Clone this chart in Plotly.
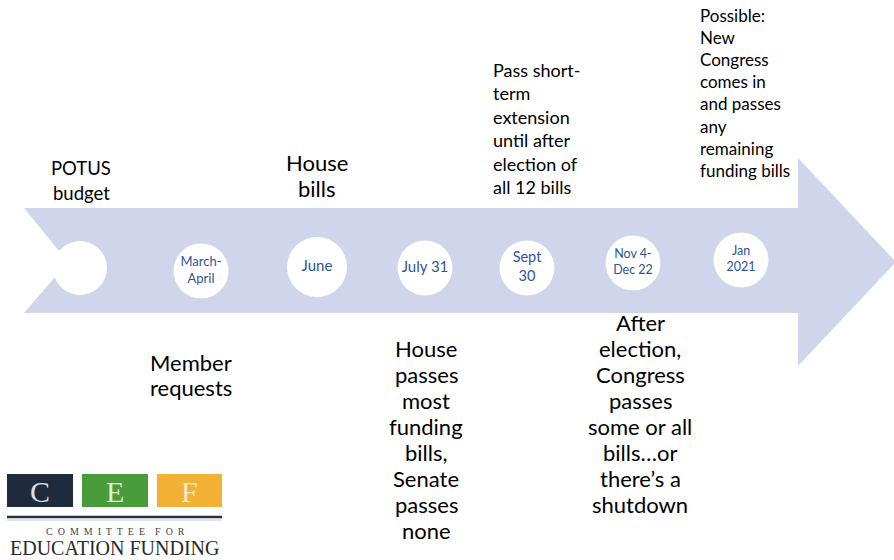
import plotly.graph_objects as go

W, H = 894, 560

# ---- data ----
milestones = ["", "March-<br>April", "June", "July 31", "Sept<br>30", "Nov 4-<br>Dec 22", "Jan<br>2021"]
above_texts = ["POTUS<br>budget", "", "House<br>bills", "", "", "", ""]
below_texts = ["", "Member<br>requests", "",
               "House<br>passes<br>most<br>funding<br>bills,<br>Senate<br>passes<br>none",
               "", "After<br>election,<br>Congress<br>passes<br>some or all<br>bills…or<br>there’s a<br>shutdown", ""]
side_texts = ["Pass short-<br>term<br>extension<br>until after<br>election of<br>all 12 bills",
              "Possible:<br>New<br>Congress<br>comes in<br>and passes<br>any<br>remaining<br>funding bills"]
logo_letters = ["C", "E", "F"]
logo_lines = ["COMMITTEE FOR", "EDUCATION FUNDING"]

# ---- layout (pixel coordinates) ----
circ_x = [80, 201, 317, 425, 527, 633, 741]
circ_y = [268, 271, 267, 268, 268, 263, 260]
circ_size = [54, 55, 60, 55, 55, 55, 55]
circ_font = [13, 13, 15, 15, 14.5, 12.5, 12.5]

ARROW = "#CFD5EA"
BLUE = "#2F5597"
FONT = "Lato"

fig = go.Figure()

arrow_path = ("M 24 208 L 798 208 L 798 158 L 896 262 L 798 366 L 798 313 "
              "L 24 313 L 68 262 Z")
shapes = [dict(type="path", path=arrow_path, fillcolor=ARROW, opacity=1, line=dict(width=0), layer="below")]

fig.add_trace(go.Scatter(
    x=circ_x, y=circ_y, mode="markers+text", opacity=1,
    marker=dict(size=circ_size, color="#FFFFFF", opacity=1, line=dict(width=0)),
    text=milestones, textposition="middle center",
    textfont=dict(family=FONT, size=circ_font, color=BLUE),
    hoverinfo="skip", showlegend=False,
))

annotations = []


def block(text, x, y_first, spacing, size, xanchor="center"):
    for k, line in enumerate(text.split("<br>")):
        annotations.append(dict(x=x, y=y_first + k * spacing, text=line, showarrow=False,
                                xanchor=xanchor, yanchor="middle",
                                font=dict(family=FONT, size=size, color="black")))


above_pos = {0: (81, 168, 25, 18.5), 2: (317, 162, 26, 22)}
for i, t in enumerate(above_texts):
    if t:
        x, y, sp, fs = above_pos[i]
        block(t, x, y, sp, fs)
below_pos = {1: (191, 362, 25.5), 3: (426, 348, 26), 5: (640, 322, 26.1)}
for i, t in enumerate(below_texts):
    if t:
        x, y, sp = below_pos[i]
        block(t, x, y, sp, 22)
side_pos = [(491, 70, 23.4, 18), (698, 15, 22.2, 17)]
for t, (x, y, sp, fs) in zip(side_texts, side_pos):
    block(t, x, y, sp, fs, xanchor="left")

# logo
box_x = [(7, 73), (82, 148), (157, 222)]
box_col = ["#1E2B3C", "#4A9B3C", "#F2B134"]
let_col = ["#D9DDE3", "#DDEFD5", "#FBEACB"]
for (x0, x1), c, lc, L in zip(box_x, box_col, let_col, logo_letters):
    shapes.append(dict(type="rect", x0=x0, x1=x1, y0=474, y1=507, fillcolor=c, line=dict(width=0)))
    annotations.append(dict(x=(x0 + x1) / 2, y=491, text=L, showarrow=False,
                            font=dict(family="Liberation Serif", size=30, color=lc)))
shapes.append(dict(type="line", x0=7, x1=222, y0=517, y1=517, line=dict(color="#2A3342", width=2.5)))
shapes.append(dict(type="line", x0=7, x1=222, y0=520, y1=520, line=dict(color="#C8CCD2", width=1)))
spaced = "&nbsp;&nbsp;&nbsp;&nbsp;".join(
    "&nbsp; ".join(list(w)) for w in logo_lines[0].split(" "))
annotations.append(dict(x=115, y=531, text=spaced, showarrow=False,
                        font=dict(family="Liberation Serif", size=10, color="#444")))
annotations.append(dict(x=114.5, y=548, text=logo_lines[1], showarrow=False,
                        font=dict(family="Liberation Serif", size=20, color="#2A2A2A")))

fig.update_layout(
    width=W, height=H, margin=dict(l=0, r=0, t=0, b=0),
    paper_bgcolor="white", plot_bgcolor="white",
    xaxis=dict(range=[0, W], visible=False, fixedrange=True),
    yaxis=dict(range=[H, 0], visible=False, fixedrange=True),
    shapes=shapes, annotations=annotations,
)
fig.write_html("out.html", config={"displayModeBar": False},
               post_script="document.body.style.margin='0';document.body.style.overflow='hidden';")
